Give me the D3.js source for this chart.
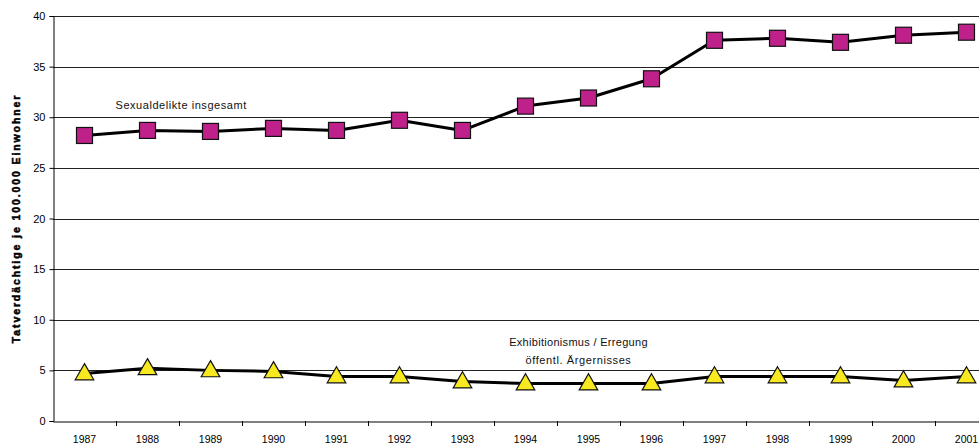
<!DOCTYPE html>
<html><head><meta charset="utf-8">
<script src="https://cdn.jsdelivr.net/npm/d3@7"></script>
<style>body{margin:0;background:#fff}svg{display:block}text{font-family:"Liberation Sans",Arial,sans-serif}</style>
</head><body><svg id="c" width="979" height="445"></svg>
<script>
const years = ["1987","1988","1989","1990","1991","1992","1993","1994","1995","1996","1997","1998","1999","2000","2001"];
const sexualdelikte = [28.2,28.7,28.6,28.9,28.7,29.7,28.7,31.1,31.9,33.8,37.6,37.8,37.4,38.1,38.4];
const exhibitionismus = [4.7,5.2,5.0,4.9,4.4,4.4,3.9,3.7,3.7,3.7,4.4,4.4,4.4,4.0,4.4];
const yTicks = [0,5,10,15,20,25,30,35,40];
const yTitle = "Tatverdächtige je 100.000 Einwohner";
const label1 = "Sexualdelikte insgesamt";
const label2a = "Exhibitionismus / Erregung";
const label2b = "öffentl. Ärgernisses";

const svg = d3.select("#c");
const L = 53, R = 998, T = 16, B = 421;
const x = d3.scaleBand().domain(years).range([L, R]);
const cx = d => x(d) + x.bandwidth()/2;
const y = d3.scaleLinear().domain([0,40]).range([B, T]);

// gridlines
svg.append("g").selectAll("line").data(yTicks.filter(t=>t>0)).join("line")
  .attr("x1", L).attr("x2", R).attr("y1", d=>Math.round(y(d))+0.5).attr("y2", d=>Math.round(y(d))+0.5)
  .attr("stroke", "#222").attr("stroke-width", 1);

// y axis
const ya = svg.append("g").attr("transform", `translate(${L+0.5},0)`)
  .call(d3.axisLeft(y).tickValues(yTicks).tickSize(4).tickPadding(4));
ya.select(".domain").attr("stroke","#000");
ya.selectAll(".tick line").attr("stroke","#000");
ya.selectAll("text").attr("font-size", 11).attr("fill","#000");

// x axis
const xa = svg.append("g").attr("transform", `translate(0,${Math.round(B)+0.5})`)
  .call(d3.axisBottom(x).tickSize(0).tickPadding(14));
xa.select(".domain").attr("stroke","#000");
xa.selectAll("text").attr("font-size", 10.5).attr("fill","#000");
svg.append("g").selectAll("line").data(years.slice(1)).join("line")
  .attr("x1", d=>Math.round(x(d))+0.5).attr("x2", d=>Math.round(x(d))+0.5)
  .attr("y1", B).attr("y2", B+5).attr("stroke","#000");

// y title
svg.append("text").attr("transform", `translate(20,${(T+B)/2 + 0}) rotate(-90)`)
  .attr("text-anchor","middle").attr("font-size", 10.5).attr("font-weight", 900)
  .attr("font-family","DejaVu Sans").attr("letter-spacing", 1.9)
  .attr("stroke","#000").attr("stroke-width",0.5)
  .text(yTitle);

const line = d3.line().x((d,i)=>cx(years[i])).y(d=>y(d));

// series 1
svg.append("path").datum(sexualdelikte).attr("d", line).attr("fill","none")
  .attr("stroke","#000").attr("stroke-width",3).attr("stroke-linejoin","round");
svg.append("g").selectAll("rect").data(sexualdelikte).join("rect")
  .attr("x",(d,i)=>cx(years[i])-8).attr("y",d=>y(d)-8).attr("width",16).attr("height",16)
  .attr("fill","#BE2189").attr("stroke","#111").attr("stroke-width",1.2);

// series 2
svg.append("path").datum(exhibitionismus).attr("d", line).attr("fill","none")
  .attr("stroke","#000").attr("stroke-width",3).attr("stroke-linejoin","round");
const tri = d3.symbol().type(d3.symbolTriangle).size(150);
svg.append("g").selectAll("path").data(exhibitionismus).join("path")
  .attr("d", tri).attr("transform",(d,i)=>`translate(${cx(years[i])},${y(d)+1})`)
  .attr("fill","#F7E81F").attr("stroke","#111").attr("stroke-width",1.2);

// labels
svg.append("text").attr("x", cx("1988")-32).attr("y", y(31.2)+4).attr("font-size", 11)
  .attr("fill","#111").attr("letter-spacing", 0.55).text(label1);
svg.append("text").attr("x", cx("1995")-10).attr("y", y(7.8)+4).attr("font-size", 11)
  .attr("text-anchor","middle").attr("fill","#111").attr("letter-spacing", 0.3).text(label2a);
svg.append("text").attr("x", cx("1995")-10).attr("y", y(6.05)+4).attr("font-size", 11)
  .attr("text-anchor","middle").attr("fill","#111").attr("letter-spacing", 0.6).text(label2b);
</script></body></html>
